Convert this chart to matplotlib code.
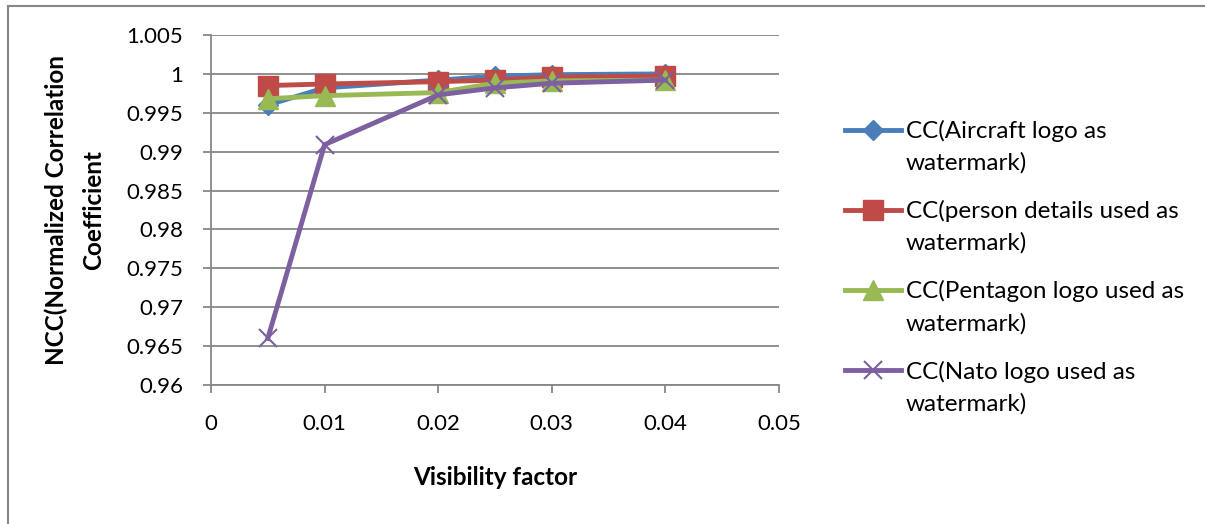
import numpy as np
import matplotlib
matplotlib.use("Agg")
import matplotlib.pyplot as plt
from matplotlib.lines import Line2D

plt.rcParams['font.family'] = ['Lato', 'DejaVu Sans']

vis = [0.005, 0.01, 0.02, 0.025, 0.03, 0.04]

cc_aircraft = [0.9960, 0.9982, 0.9992, 0.9997, 0.9999, 1.0000]
cc_person = [0.9985, 0.9987, 0.9990, 0.9992, 0.9996, 0.9997]
cc_pentagon = [0.9968, 0.9972, 0.9976, 0.9988, 0.9991, 0.9992]
cc_nato = [0.9660, 0.9909, 0.9973, 0.9982, 0.9988, 0.9992]

# legend labels (first line / second line as wrapped in the chart)
labels = ['CC(Aircraft logo as',
          'CC(person details used as',
          'CC(Pentagon logo used as',
          'CC(Nato logo used as']
label_tail = 'watermark)'

fs = 16
lfs = 17.5

fig = plt.figure(figsize=(12.05, 5.24), dpi=100)
ax = fig.add_axes([211 / 1205, 1 - 385 / 524, (779 - 211) / 1205, (385 - 35) / 524])

ax.plot(vis, cc_aircraft, color='#4A7EBB', lw=3.5, marker='D', ms=10, label=labels[0])
ax.plot(vis, cc_person, color='#BE4B48', lw=3.5, marker='s', ms=14, label=labels[1])
ax.plot(vis, cc_pentagon, color='#98B954', lw=3.5, marker='^', ms=15, label=labels[2])
ax.plot(vis, cc_nato, color='#7D60A0', lw=3.5, marker='x', ms=13, mew=1.5, label=labels[3])

ax.set_xlim(0, 0.05)
ax.set_ylim(0.96, 1.005)
ax.set_xticks(np.arange(0, 0.051, 0.01))
ax.set_xticklabels(['0', '0.01', '0.02', '0.03', '0.04', '0.05'])
ax.set_yticks(np.arange(0.96, 1.0051, 0.005))
ax.set_yticklabels(['0.96', '0.965', '0.97', '0.975', '0.98', '0.985', '0.99', '0.995', '1', '1.005'])
ax.yaxis.grid(True, color='#878787', lw=1.3)
ax.set_axisbelow(True)
for s in ['top', 'right']:
    ax.spines[s].set_visible(False)
for s in ['left', 'bottom']:
    ax.spines[s].set_color('#878787')
    ax.spines[s].set_linewidth(1.3)
ax.tick_params(colors='#878787', labelcolor='black', labelsize=fs, length=6, width=1.3)
ax.tick_params(axis='x', pad=15)
ax.tick_params(axis='y', pad=14)

ax.set_xlabel('Visibility factor', fontsize=lfs, fontweight='bold', labelpad=23)
ax.set_ylabel('NCC(Normalized Correlation\nCoefficient', fontsize=lfs, fontweight='bold',
              labelpad=15, linespacing=1.75)

leg = fig.legend(loc='upper left', bbox_to_anchor=(845 / 1205, 1 - 120 / 524), frameon=False,
                 fontsize=lfs, handlelength=2.3, handletextpad=0.2, labelspacing=2.39,
                 borderpad=0, borderaxespad=0)

fig.canvas.draw()
inv = fig.transFigure.inverted()
for t in leg.get_texts():
    bb = t.get_window_extent()
    x0, y0 = inv.transform((bb.x0, bb.y0 - 32 + (bb.height) / 2))
    fig.text(x0, y0, label_tail, fontsize=lfs, ha='left', va='center')

# outer chart border
fig.add_artist(Line2D([8 / 1205, 1], [1 - 6 / 524, 1 - 6 / 524], color='#878787', lw=1.5))
fig.add_artist(Line2D([8 / 1205, 8 / 1205], [0, 1 - 6 / 524], color='#878787', lw=1.5))

fig.savefig('out.png', dpi=100)
